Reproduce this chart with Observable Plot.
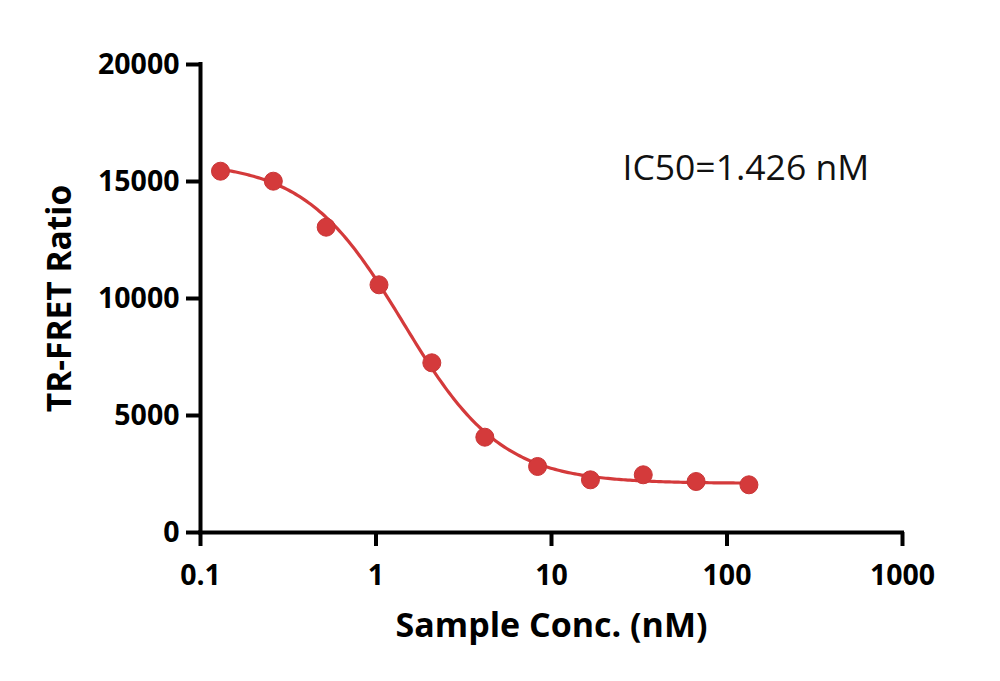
<!DOCTYPE html>
<html>
<head>
<meta charset="utf-8">
<script src="https://cdn.jsdelivr.net/npm/d3@7"></script>
<script src="https://cdn.jsdelivr.net/npm/@observablehq/plot@0.6"></script>
<style>
  html, body { margin: 0; padding: 0; background: #ffffff; }
  #chart { width: 1000px; height: 681px; }
</style>
</head>
<body>
<div id="chart"></div>
<script>
// Sample concentrations (nM), two-fold serial dilution
const concentrations = [0.13, 0.26, 0.52, 1.04, 2.08, 4.17, 8.33, 16.67, 33.33, 66.67, 133.33];
// Measured TR-FRET ratio at each concentration
const ratios = [15440, 15013, 13047, 10585, 7252, 4073, 2821, 2251, 2466, 2179, 2038];

// Four-parameter logistic fit
const ic50 = 1.426;
const fitTop = 15850;
const fitBottom = 2100;
const fitHill = 1.55;

const xTicks = [0.1, 1, 10, 100, 1000];
const yTicks = [0, 5000, 10000, 15000, 20000];

const xTitle = "Sample Conc. (nM)";
const yTitle = "TR-FRET Ratio";
const ic50Label = `IC50=${ic50} nM`;

const points = concentrations.map((c, i) => ({conc: c, ratio: ratios[i]}));

const logistic = c => fitBottom + (fitTop - fitBottom) / (1 + Math.pow(c / ic50, fitHill));
const [lo, hi] = d3.extent(concentrations);
const curve = d3.range(0, 241).map(i => {
  const c = Math.pow(10, Math.log10(lo) + (Math.log10(hi) - Math.log10(lo)) * i / 240);
  return {conc: c, ratio: logistic(c)};
});

const red = "#d43a3b";
const font = "'Open Sans', sans-serif";

const chart = Plot.plot({
  width: 1000,
  height: 681,
  marginLeft: 200,
  marginRight: 98,
  marginTop: 64,
  marginBottom: 149,
  style: {fontFamily: font, background: "#ffffff", color: "#000000", overflow: "visible"},
  x: {type: "log", domain: [0.1, 1000]},
  y: {domain: [0, 20000]},
  marks: [
    Plot.axisX({ticks: xTicks, tickSize: 14, strokeWidth: 4, tickPadding: 18,
      fontSize: 28.5, fontWeight: "bold", tickFormat: d => String(d), label: null}),
    Plot.axisY({ticks: yTicks, tickSize: 14, strokeWidth: 4, tickPadding: 7,
      fontSize: 28.5, fontWeight: "bold", tickFormat: d => String(d), label: null}),
    Plot.ruleY([0], {strokeWidth: 4, strokeLinecap: "square"}),
    Plot.ruleX([0.1], {strokeWidth: 4, strokeLinecap: "square"}),
    Plot.line(curve, {x: "conc", y: "ratio", stroke: red, strokeWidth: 3.2}),
    Plot.dot(points, {x: "conc", y: "ratio", r: 9, fill: red, stroke: "#c93536", strokeWidth: 1}),
    Plot.text([ic50Label], {text: d => d, frameAnchor: "top-left", textAnchor: "start",
      lineAnchor: "middle", dx: 422, dy: 104, fontSize: 35.5, fontWeight: "normal", fill: "#111"}),
    Plot.text([xTitle], {text: d => d, frameAnchor: "bottom", lineAnchor: "middle",
      dy: 94, fontSize: 34, fontWeight: "bold"}),
    Plot.text([yTitle], {text: d => d, frameAnchor: "left", textAnchor: "middle", lineAnchor: "middle",
      rotate: -90, dx: -140, fontSize: 33.5, fontWeight: "bold"})
  ]
});

document.getElementById("chart").appendChild(chart);
</script>
</body>
</html>
